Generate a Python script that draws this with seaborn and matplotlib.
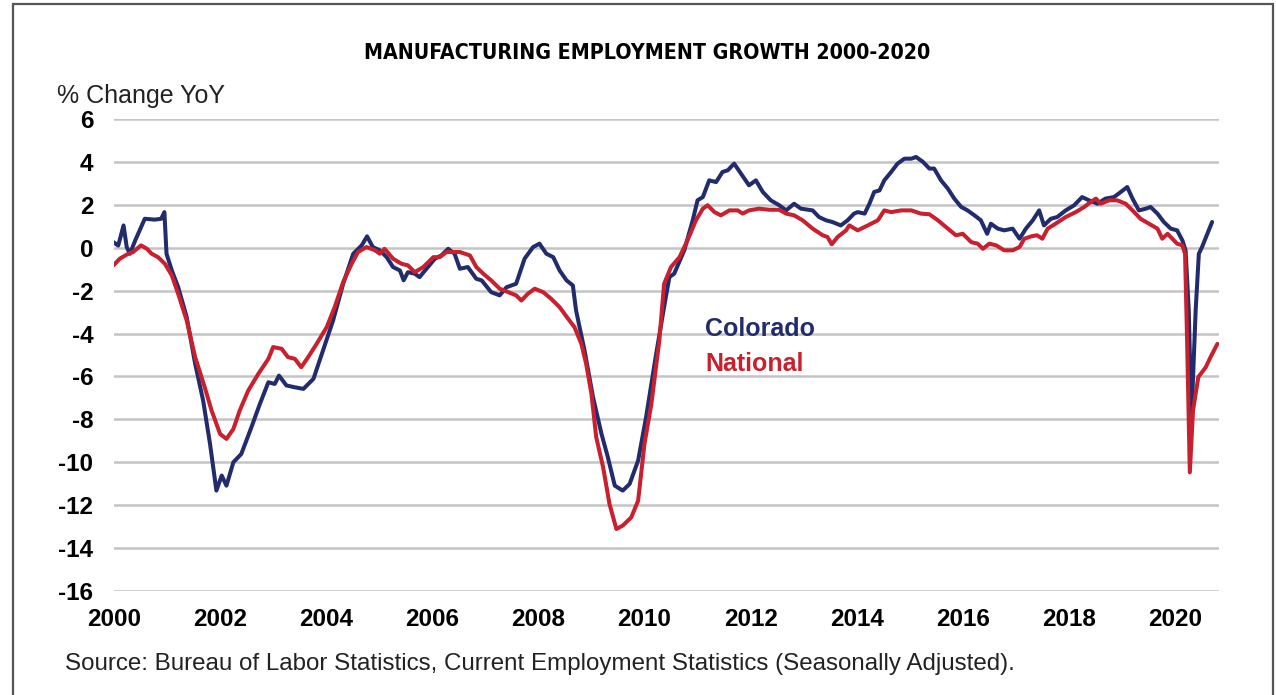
import pandas as pd
import seaborn as sns
import matplotlib.pyplot as plt
from matplotlib.patches import Rectangle

# Colorado manufacturing employment, % change YoY
co_year = [1999.99, 2000.08, 2000.18, 2000.24, 2000.30, 2000.40, 2000.58, 2000.77, 2000.89, 2000.95,
           2000.99, 2001.09, 2001.21, 2001.37, 2001.53, 2001.68, 2001.81, 2001.93, 2002.03, 2002.12,
           2002.25, 2002.40, 2002.59, 2002.75, 2002.91, 2003.03, 2003.11, 2003.25, 2003.40, 2003.57,
           2003.76, 2003.94, 2004.13, 2004.32, 2004.51, 2004.67, 2004.77, 2004.88, 2005.01, 2005.14,
           2005.26, 2005.39, 2005.46, 2005.54, 2005.67, 2005.76, 2005.89, 2006.05, 2006.17, 2006.30,
           2006.42, 2006.52, 2006.67, 2006.83, 2006.93, 2007.11, 2007.27, 2007.40, 2007.58, 2007.74,
           2007.90, 2008.02, 2008.15, 2008.28, 2008.40, 2008.53, 2008.65, 2008.71, 2008.87, 2009.03,
           2009.19, 2009.31, 2009.44, 2009.59, 2009.72, 2009.88, 2010.03, 2010.22, 2010.38, 2010.47,
           2010.56, 2010.75, 2010.91, 2011.00, 2011.10, 2011.22, 2011.35, 2011.47, 2011.57, 2011.69,
           2011.82, 2011.97, 2012.10, 2012.23, 2012.38, 2012.54, 2012.67, 2012.82, 2012.95, 2013.17,
           2013.29, 2013.42, 2013.54, 2013.70, 2013.83, 2013.95, 2014.02, 2014.15, 2014.24, 2014.33,
           2014.43, 2014.52, 2014.65, 2014.77, 2014.90, 2015.03, 2015.12, 2015.25, 2015.37, 2015.46,
           2015.59, 2015.72, 2015.84, 2015.97, 2016.09, 2016.22, 2016.34, 2016.46, 2016.53, 2016.66,
           2016.78, 2016.94, 2017.07, 2017.19, 2017.32, 2017.44, 2017.53, 2017.66, 2017.78, 2017.94,
           2018.10, 2018.25, 2018.38, 2018.54, 2018.69, 2018.85, 2018.98, 2019.10, 2019.20, 2019.32,
           2019.45, 2019.54, 2019.67, 2019.79, 2019.92, 2020.04, 2020.14, 2020.20, 2020.26, 2020.31,
           2020.39, 2020.45, 2020.51, 2020.61, 2020.70]
co_value = [0.26, 0.10, 1.04, 0.03, -0.28, 0.34, 1.35, 1.31, 1.35, 1.66,
            -0.28, -1.06, -1.84, -3.23, -5.41, -7.12, -9.14, -11.32, -10.62, -11.09,
            -10.00, -9.61, -8.37, -7.28, -6.27, -6.35, -5.96, -6.42, -6.50, -6.58,
            -6.11, -4.79, -3.39, -1.68, -0.28, 0.11, 0.53, 0.03, -0.12, -0.44,
            -0.90, -1.06, -1.52, -1.14, -1.21, -1.37, -0.98, -0.51, -0.36, -0.05,
            -0.28, -0.98, -0.90, -1.45, -1.52, -2.07, -2.22, -1.84, -1.68, -0.51,
            0.03, 0.19, -0.28, -0.44, -1.06, -1.52, -1.76, -2.92, -4.79, -6.97,
            -8.68, -9.77, -11.09, -11.32, -11.01, -9.92, -7.90, -4.95, -2.61, -1.37,
            -1.21, -0.12, 1.28, 2.21, 2.36, 3.14, 3.06, 3.53, 3.61, 3.92,
            3.45, 2.91, 3.14, 2.60, 2.21, 1.98, 1.74, 2.05, 1.82, 1.74,
            1.43, 1.28, 1.20, 1.04, 1.28, 1.59, 1.66, 1.59, 2.05, 2.60,
            2.67, 3.14, 3.53, 3.92, 4.15, 4.15, 4.23, 4.00, 3.69, 3.69,
            3.14, 2.75, 2.29, 1.90, 1.74, 1.51, 1.28, 0.65, 1.12, 0.89,
            0.81, 0.89, 0.42, 0.89, 1.28, 1.74, 1.04, 1.35, 1.43, 1.74,
            1.98, 2.36, 2.21, 2.05, 2.29, 2.36, 2.60, 2.83, 2.29, 1.74,
            1.82, 1.90, 1.59, 1.20, 0.89, 0.81, 0.34, -0.12, -2.92, -8.00,
            -2.92, -0.28, 0.03, 0.65, 1.20]

# National manufacturing employment, % change YoY
us_year = [1999.99, 2000.11, 2000.27, 2000.36, 2000.51, 2000.62, 2000.71, 2000.83, 2000.96, 2001.09,
           2001.21, 2001.37, 2001.53, 2001.71, 2001.84, 2002.00, 2002.12, 2002.25, 2002.37, 2002.53,
           2002.72, 2002.91, 2003.00, 2003.16, 2003.28, 2003.41, 2003.53, 2003.66, 2003.82, 2004.01,
           2004.16, 2004.32, 2004.48, 2004.60, 2004.76, 2004.92, 2005.01, 2005.10, 2005.26, 2005.42,
           2005.54, 2005.67, 2005.83, 2006.02, 2006.14, 2006.27, 2006.39, 2006.52, 2006.71, 2006.83,
           2006.96, 2007.11, 2007.27, 2007.43, 2007.58, 2007.68, 2007.80, 2007.93, 2008.09, 2008.24,
           2008.40, 2008.56, 2008.68, 2008.81, 2008.90, 2009.00, 2009.09, 2009.22, 2009.34, 2009.47,
           2009.59, 2009.75, 2009.88, 2010.00, 2010.13, 2010.28, 2010.37, 2010.50, 2010.66, 2010.81,
           2010.97, 2011.10, 2011.19, 2011.32, 2011.44, 2011.60, 2011.76, 2011.85, 2011.97, 2012.16,
           2012.35, 2012.54, 2012.67, 2012.82, 2012.98, 2013.17, 2013.36, 2013.45, 2013.53, 2013.64,
           2013.80, 2013.86, 2014.02, 2014.21, 2014.40, 2014.52, 2014.65, 2014.84, 2015.03, 2015.21,
           2015.37, 2015.53, 2015.72, 2015.87, 2016.00, 2016.16, 2016.28, 2016.38, 2016.50, 2016.63,
           2016.78, 2016.94, 2017.07, 2017.16, 2017.29, 2017.40, 2017.50, 2017.60, 2017.75, 2017.94,
           2018.13, 2018.29, 2018.41, 2018.51, 2018.60, 2018.76, 2018.91, 2019.07, 2019.20, 2019.35,
           2019.51, 2019.67, 2019.76, 2019.86, 2019.95, 2020.04, 2020.14, 2020.19, 2020.23, 2020.28,
           2020.34, 2020.44, 2020.58, 2020.67, 2020.80]
us_value = [-0.82, -0.51, -0.28, -0.20, 0.11, -0.05, -0.28, -0.44, -0.75, -1.29,
            -2.15, -3.39, -5.10, -6.50, -7.59, -8.68, -8.91, -8.45, -7.59, -6.66,
            -5.88, -5.18, -4.63, -4.71, -5.10, -5.18, -5.57, -5.10, -4.48, -3.70,
            -2.77, -1.60, -0.75, -0.20, 0.03, -0.12, -0.28, -0.05, -0.51, -0.75,
            -0.82, -1.14, -0.90, -0.44, -0.44, -0.20, -0.20, -0.20, -0.36, -0.90,
            -1.21, -1.52, -1.91, -2.07, -2.22, -2.46, -2.15, -1.91, -2.07, -2.38,
            -2.77, -3.31, -3.70, -4.48, -5.41, -6.81, -8.83, -10.23, -11.94, -13.11,
            -12.95, -12.57, -11.79, -9.14, -7.28, -4.32, -1.68, -0.90, -0.44, 0.34,
            1.28, 1.82, 1.98, 1.66, 1.51, 1.74, 1.74, 1.59, 1.74, 1.82,
            1.77, 1.77, 1.59, 1.51, 1.28, 0.89, 0.58, 0.50, 0.16, 0.50,
            0.81, 1.04, 0.81, 1.04, 1.28, 1.74, 1.66, 1.74, 1.74, 1.59,
            1.56, 1.28, 0.89, 0.58, 0.65, 0.26, 0.19, -0.05, 0.19, 0.11,
            -0.12, -0.12, 0.03, 0.42, 0.53, 0.58, 0.42, 0.89, 1.12, 1.43,
            1.66, 1.90, 2.13, 2.29, 2.05, 2.21, 2.21, 2.05, 1.74, 1.35,
            1.12, 0.89, 0.42, 0.65, 0.42, 0.19, 0.11, -0.28, -4.48, -10.47,
            -7.59, -6.03, -5.57, -5.10, -4.48]

y_ticks = list(range(-16, 7, 2))
x_ticks = list(range(2000, 2021, 2))

NAVY = '#222c6c'
RED = '#c8202e'

sns.set_style('white')
plt.rcParams['font.family'] = ['Liberation Sans', 'DejaVu Sans']
plt.rcParams['text.color'] = 'black'

co = pd.DataFrame({'year': co_year, 'value': co_value})
us = pd.DataFrame({'year': us_year, 'value': us_value})

fig = plt.figure(figsize=(12.76, 6.95), dpi=100)
ax = fig.add_axes([114 / 1276, 1 - 591 / 695, (1219 - 114) / 1276, (591 - 119) / 695])

sns.lineplot(data=co, x='year', y='value', ax=ax, color=NAVY, linewidth=2.9, estimator=None, sort=False)
sns.lineplot(data=us, x='year', y='value', ax=ax, color=RED, linewidth=2.9, estimator=None, sort=False)

ax.set_xlim(2000, 2020.83)
ax.set_ylim(-16, 6)
ax.set_yticks(y_ticks)
ax.set_xticks(x_ticks)
ax.set_yticklabels([str(v) for v in y_ticks], fontsize=17.5, fontweight='bold', color='black')
ax.set_xticklabels([str(v) for v in x_ticks], fontsize=17.5, fontweight='bold', color='black')
ax.tick_params(axis='y', length=0, pad=15)
ax.tick_params(axis='x', length=0, pad=12)
ax.grid(axis='y', color='#c4c4c4', linewidth=1.8)
ax.set_axisbelow(True)
for s in ax.spines.values():
    s.set_visible(False)
ax.set_xlabel('')
ax.set_ylabel('')

ax.text(2011.15, -3.8, 'Colorado', color=NAVY, fontsize=18, fontweight='bold', va='center')
ax.text(2011.15, -5.4, 'National', color=RED, fontsize=18, fontweight='bold', va='center')

fig.text(647 / 1276, 1 - 53 / 695, 'MANUFACTURING EMPLOYMENT GROWTH 2000-2020',
         family='DejaVu Sans', fontstretch='condensed', fontsize=15.3, fontweight='bold',
         ha='center', va='center', color='black')
fig.text(57 / 1276, 1 - 96 / 695, '% Change YoY', fontsize=18, ha='left', va='center', color='#222222')
fig.text(65 / 1276, 1 - 664 / 695,
         'Source: Bureau of Labor Statistics, Current Employment Statistics (Seasonally Adjusted).',
         fontsize=17.4, ha='left', va='center', color='#222222')

fig.patches.append(Rectangle((13 / 1276, -0.05), (1273 - 13) / 1276, (0.05 + 1 - 4 / 695),
                             transform=fig.transFigure, fill=False, edgecolor='#555555', linewidth=1.6))

fig.savefig('out.png', dpi=100)
